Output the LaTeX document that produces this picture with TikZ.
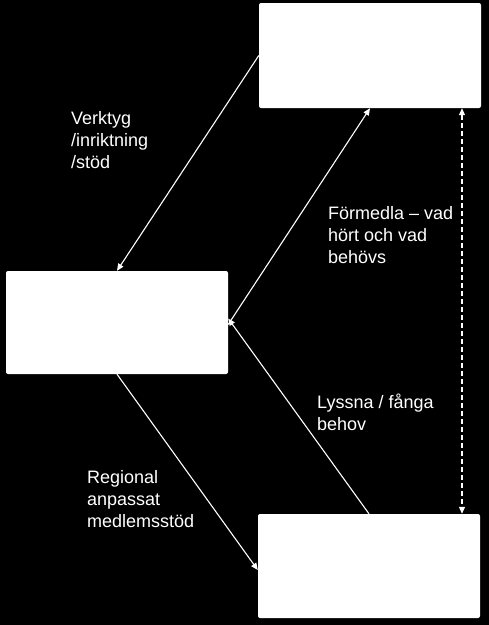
\documentclass[tikz,border=0pt]{standalone}
\usepackage{fontspec}
\setmainfont{Liberation Sans}
\usetikzlibrary{arrows.meta}
\begin{document}
\begin{tikzpicture}[x=1pt,y=-1pt,
 box/.style={draw=none, fill=white, rounded corners=2pt, inner sep=0pt},
 conn/.style={draw=white, line width=1.1pt, -{Triangle[length=7pt,width=6pt]}},
 dconn/.style={draw=white, line width=1.1pt, dash pattern=on 5pt off 3pt, {Triangle[length=7pt,width=6pt]}-{Triangle[length=7pt,width=6pt]}},
 lbl/.style={text=white, font=\fontsize{18}{22}\selectfont, align=left, anchor=base west, inner sep=0pt}]
\fill[black] (0,0) rectangle (489,625);
\useasboundingbox (0,0) rectangle (489,625);
\node[box, minimum width=222pt, minimum height=105pt] (top) at (370,55.5) {};
\node[box, minimum width=222pt, minimum height=103pt] (left) at (117,322.5) {};
\node[box, minimum width=222pt, minimum height=104pt] (bot) at (369,566) {};
\draw[conn] (top.west) -- (left.north);
\draw[conn] ([yshift=-2pt]left.east) -- (top.south);
\draw[conn] (bot.north) -- ([yshift=4pt]left.east);
\draw[conn] (left.south) -- ([yshift=-4pt]bot.west);
\draw[dconn] ([xshift=92pt]top.south) -- ([xshift=93pt]bot.north);
\node[lbl] (l1) at (71,168) {Verktyg\\/inriktning\\/stöd};
\node[lbl] (l2) at (328,263) {Förmedla – vad\\hört och vad\\behövs};
\node[lbl] (l3) at (317,430) {Lyssna / fånga\\behov};
\node[lbl] (l4) at (87,527) {Regional\\anpassat\\medlemsstöd};
\end{tikzpicture}
\end{document}
